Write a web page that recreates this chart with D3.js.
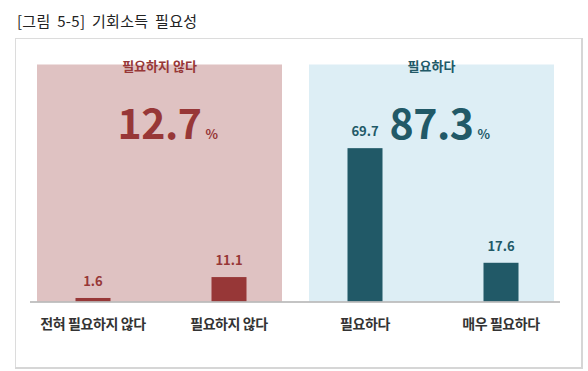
<!DOCTYPE html>
<html>
<head>
<meta charset="utf-8">
<script src="https://cdn.jsdelivr.net/npm/d3@7"></script>
<style>
  body { margin: 0; background: #fff; }
  text { font-family: "Noto Sans CJK KR", "Noto Sans", sans-serif; }
</style>
</head>
<body>
<script>
var w = 588;
var h = 371;

// data
var categories = ["전혀 필요하지 않다", "필요하지 않다", "필요하다", "매우 필요하다"];
var values = [1.6, 11.1, 69.7, 17.6];
var groups = ["필요하지 않다", "필요하다"];
var groupTotals = [12.7, 87.3];
var groupMembers = [[0, 1], [2, 3]];

var darkColors = ["#973737", "#215967"];
var lightColors = ["#dfc2c2", "#ddeef5"];

var svg = d3.select("body").append("svg")
    .attr("width", w)
    .attr("height", h);

// titre
svg.append("text")
    .attr("x", 17).attr("y", 27)
    .attr("font-size", 15)
    .attr("word-spacing", 3)
    .attr("letter-spacing", 0.3)
    .attr("fill", "#222")
    .text("[그림 5-5] 기회소득 필요성");

// cadre
svg.append("rect")
    .attr("x", 15.5).attr("y", 38.5)
    .attr("width", 566).attr("height", 329)
    .attr("fill", "none")
    .attr("stroke", "#dcdcdc");
svg.append("line").attr("x1", 582).attr("x2", 582).attr("y1", 38).attr("y2", 369)
    .attr("stroke", "#d6d6d6").attr("stroke-width", 2);
svg.append("line").attr("x1", 15).attr("x2", 583).attr("y1", 368).attr("y2", 368)
    .attr("stroke", "#d6d6d6").attr("stroke-width", 2);

var x = d3.scaleBand().domain(categories).range([25, 569]);
var y = d3.scaleLinear().domain([0, 100]).range([301.5, 81.5]);
var barW = 35;

// panneaux de fond
groups.forEach(function(g, i) {
    var first = categories[groupMembers[i][0]];
    var last = categories[groupMembers[i][1]];
    var x0 = x(first) + 12;
    var x1 = x(last) + x.bandwidth() - 15;
    svg.append("rect")
        .attr("x", x0).attr("y", 64.5)
        .attr("width", x1 - x0)
        .attr("height", y(0) - 64.5)
        .attr("fill", lightColors[i]);
    var cx = (x0 + x1) / 2;
    svg.append("text")
        .attr("x", cx).attr("y", 71)
        .attr("text-anchor", "middle")
        .attr("font-size", 13)
        .attr("font-weight", "bold")
        .attr("fill", darkColors[i])
        .text(g);
    var big = svg.append("text")
        .attr("x", cx).attr("y", 139)
        .attr("text-anchor", "middle")
        .attr("font-size", 41)
        .attr("font-weight", "bold")
        .attr("letter-spacing", -0.5)
        .attr("fill", darkColors[i])
        .text(groupTotals[i].toFixed(1));
    var bb = big.node().getBBox();
    svg.append("text")
        .attr("x", bb.x + bb.width + 4).attr("y", 139)
        .attr("font-size", 13)
        .attr("font-weight", "bold")
        .attr("fill", darkColors[i])
        .text("%");
});

// barres
categories.forEach(function(c, i) {
    var g = i < 2 ? 0 : 1;
    var cx = x(c) + x.bandwidth() / 2;
    svg.append("rect")
        .attr("x", cx - barW / 2)
        .attr("y", y(values[i]))
        .attr("width", barW)
        .attr("height", y(0) - y(values[i]))
        .attr("fill", darkColors[g]);
    svg.append("text")
        .attr("x", cx).attr("y", y(values[i]) - 12)
        .attr("text-anchor", "middle")
        .attr("font-size", 13)
        .attr("font-weight", "bold")
        .attr("fill", darkColors[g])
        .text(values[i].toFixed(1));
    svg.append("text")
        .attr("x", cx).attr("y", 329)
        .attr("text-anchor", "middle")
        .attr("font-size", 14)
        .attr("font-weight", "bold")
        .attr("letter-spacing", -0.4)
        .attr("fill", "#333")
        .text(c);
});

// ligne de base
svg.append("line")
    .attr("x1", 30).attr("x2", 560)
    .attr("y1", y(0) + 0.5).attr("y2", y(0) + 0.5)
    .attr("stroke", "#b0b0b0")
    .attr("stroke-width", 1.5);
</script>
</body>
</html>
